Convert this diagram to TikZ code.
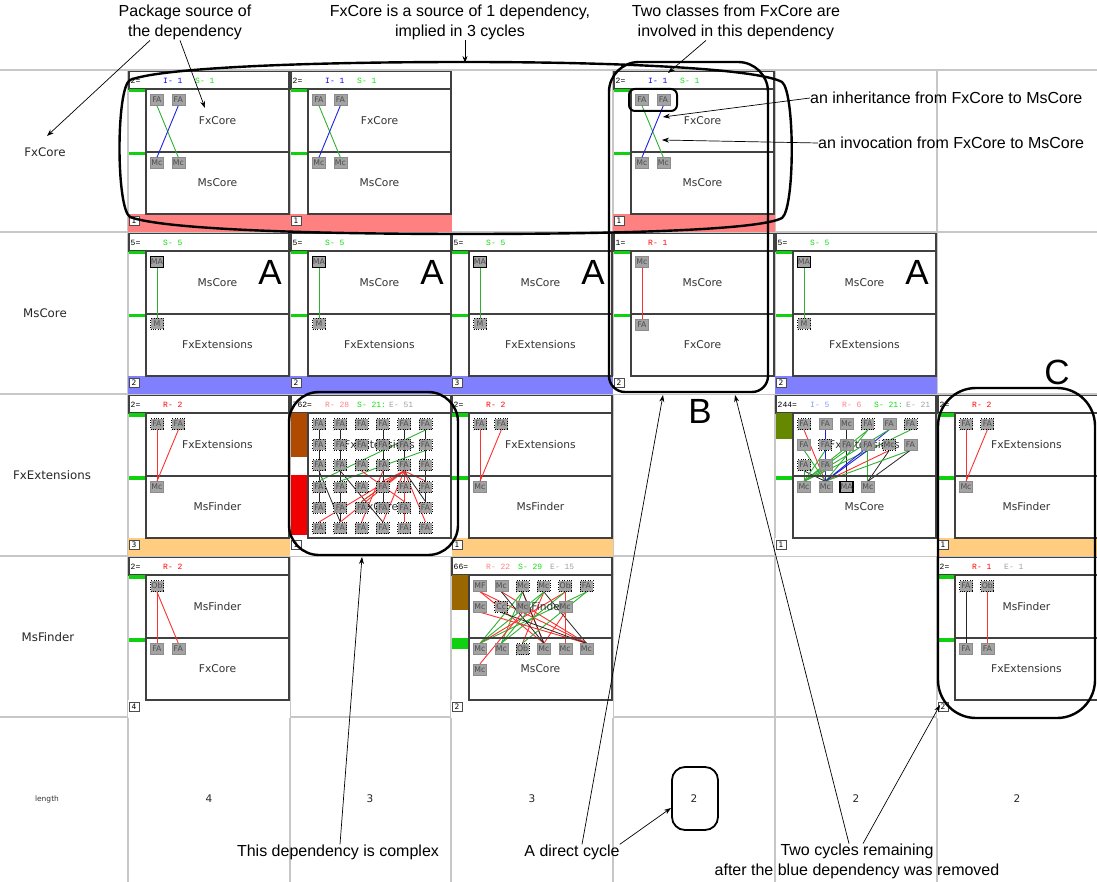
\documentclass[tikz,border=0pt]{standalone}
\usepackage{fontspec}
\setmainfont{Liberation Sans}
\newfontfamily\pkgfont{DejaVu Sans}
\newfontfamily\hdrfont{Liberation Mono}
\usepackage{tikz}
\usetikzlibrary{arrows.meta,positioning,backgrounds}
\usepackage{xcolor}
\definecolor{depI}{HTML}{2020E0}
\definecolor{depS}{HTML}{30B030}
\definecolor{depR}{HTML}{FF3030}
\definecolor{hI}{HTML}{0000FF}
\definecolor{hIlt}{HTML}{7FA0FF}
\definecolor{hR}{HTML}{FF0000}
\definecolor{hRlt}{HTML}{FF8080}
\definecolor{hS}{HTML}{10DD10}
\definecolor{hE}{HTML}{A0A0A0}
\definecolor{bandR}{HTML}{FF8080}
\definecolor{bandB}{HTML}{8080FF}
\definecolor{bandO}{HTML}{FFCC80}
\definecolor{barg}{HTML}{10D010}
\definecolor{stripBr}{HTML}{B04A00}
\definecolor{stripRd}{HTML}{F00000}
\definecolor{stripOl}{HTML}{668800}
\definecolor{stripBn}{HTML}{996600}
\tikzset{
  cellline/.style={draw=black!75, line width=1.2pt},
  gridln/.style={draw=black!22, line width=1.6pt},
  pkgname/.style={font=\pkgfont\fontsize{10.7}{12}\selectfont, text=black!80, inner sep=0pt},
  rowname/.style={font=\pkgfont\fontsize{11.8}{13}\selectfont, text=black!85, inner sep=0pt},
  lenname/.style={font=\pkgfont\fontsize{7.5}{8}\selectfont, text=black!80, inner sep=0pt},
  lenval/.style={font=\pkgfont\fontsize{10.5}{12}\selectfont, text=black!85, inner sep=0pt},
  hdr/.style={font=\hdrfont\fontsize{8}{9}\selectfont, anchor=west, inner sep=0pt},
  numbox/.style={draw=black!70, fill=white, minimum width=9.5pt, minimum height=9.5pt, inner sep=0pt, font=\pkgfont\fontsize{7.5}{8}\selectfont},
  cls/.style={draw=black!45, line width=0.4pt, fill=black!40, fill opacity=0.9, text opacity=1, text=black!70, minimum width=13pt, minimum height=11pt, inner sep=0pt, font=\pkgfont\fontsize{7.8}{8}\selectfont},
  clsdot/.style={cls, draw=black, dotted, line width=0.9pt},
  clsbold/.style={cls, draw=black, line width=1.4pt},
  lnI/.style={draw=depI, line width=0.9pt},
  lnS/.style={draw=depS, line width=0.9pt},
  lnR/.style={draw=depR, line width=0.9pt},
  lnE/.style={draw=black!85, line width=0.8pt},
  note/.style={font=\fontsize{16}{20.5}\selectfont, align=center, inner sep=0pt},
  annot/.style={-{Stealth[length=7pt,width=5pt]}, line width=0.7pt},
  hilite/.style={draw=black, line width=2.4pt},
  bigletter/.style={font=\fontsize{35}{35}\selectfont, inner sep=0pt}
}
\newcommand{\cellbox}[5]{%
  \fill[#4] (0,144) rectangle (162,162);
  \draw[cellline] (1,1.5) rectangle (161,19);
  \draw[cellline] (18,19) rectangle (161,82);
  \draw[cellline] (18,82) rectangle (161,144);
  \node[pkgname] (upname) at (89.5,50.5) {#1};
  \node[pkgname] (loname) at (89.5,113) {#2};
  \node[numbox] (num) at (6,150.5) {#3};
  \node[hdr] (cnt) at (2.5,10.5) {#5};
}
\newcommand{\gbars}{%
  \fill[barg] (1,19) rectangle (17,22.5);
  \fill[barg] (1,82) rectangle (17,85.5);
}

\begin{document}
\begin{tikzpicture}[x=1pt,y=-1pt]
\useasboundingbox (0,0) rectangle (1097,882);
\foreach \gx in {128,290,451,613,775,937} \draw[gridln] (\gx,70) -- (\gx,882);
\foreach \gy in {70,232,394,556,717} \draw[gridln] (0,\gy) -- (1097,\gy);

\node[rowname] (rFx) at (45,152) {FxCore};
\node[rowname] (rMs) at (45,313) {MsCore};
\node[rowname] (rExt) at (52,475) {FxExtensions};
\node[rowname] (rFind) at (48,637) {MsFinder};
\node[lenname] (rLen) at (47,799) {length};
\foreach \lx/\lv [count=\k] in {209/4,370/3,532/3,694/2,856/2,1017/2}
  \node[lenval] (len\k) at (\lx,799) {\lv};

% FxCore row
\foreach \cx in {128,290,613}{
\begin{scope}[shift={(\cx,70)}]
  \cellbox{FxCore}{MsCore}{1}{bandR}{2=}
  \gbars
  \node[hdr, text=hI] (h1) at (35,10.5) {I- 1};
  \node[hdr, text=hS] (h2) at (67,10.5) {S- 1};
  \node[cls] (u1) at (29,30) {FA};
  \node[cls] (u2) at (50.3,30) {FA};
  \node[cls] (l1) at (29,93) {Mc};
  \node[cls] (l2) at (50.3,93) {Mc};
  \draw[lnS] (u1.south) -- (l2.north);
  \draw[lnI] (u2.south) -- (l1.north);
\end{scope}}

% MsCore row
\foreach \cx/\cn in {128/2,290/2,451/3,775/2}{
\begin{scope}[shift={(\cx,232)}]
  \cellbox{MsCore}{FxExtensions}{\cn}{bandB}{5=}
  \gbars
  \node[hdr, text=hS] (h1) at (35,10.5) {S- 5};
  \node[clsbold] (u1) at (29,30) {MA};
  \node[clsdot] (l1) at (29,92) {M};
  \draw[lnS] (u1.south) -- (l1.north);
  \node[bigletter] (mark) at (142,40.5) {A};
\end{scope}}
\begin{scope}[shift={(613,232)}]
  \cellbox{MsCore}{FxCore}{2}{white}{1=}
  \gbars
  \node[hdr, text=hR] (h1) at (35,10.5) {R- 1};
  \node[cls] (u1) at (29,30) {Mc};
  \node[cls] (l1) at (29,93) {FA};
  \draw[lnR] (u1.south) -- (l1.north);
\end{scope}

% FxExtensions row
\foreach \cx/\cn in {128/3,451/1,937/1}{
\begin{scope}[shift={(\cx,394)}]
  \cellbox{FxExtensions}{MsFinder}{\cn}{bandO}{2=}
  \gbars
  \node[hdr, text=hR] (h1) at (35,10.5) {R- 2};
  \node[clsdot] (u1) at (29,30) {FA};
  \node[clsdot] (u2) at (50.3,30) {FA};
  \node[cls] (l1) at (29,93) {Mc};
  \draw[lnR] (u1.south) -- (l1.north);
  \draw[lnR] (u2.south) -- (l1.north);
\end{scope}}

\begin{scope}[shift={(290,394)}]
  \cellbox{FxExtensions}{FxCore}{1}{white}{762=}
  \fill[stripBr] (1,19) rectangle (17,63);
  \fill[stripRd] (1,81) rectangle (17,141);
  \node[hdr, text=hRlt] (h1) at (35,10.5) {R- 28};
  \node[hdr, text=hS] (h2) at (67,10.5) {S- 21:};
  \node[hdr, text=hE] (h3) at (99,10.5) {E- 51};
  \foreach \i in {1,...,6}
    \foreach \j in {1,2,3}{
      \node[clsdot] (a\i\j) at ({7.7+21.3*\i},{9.5+20.5*\j}) {FA};
      \node[clsdot] (b\i\j) at ({7.7+21.3*\i},{72.5+20.5*\j}) {FA};
    }
  \begin{scope}[on background layer]
    \draw[lnE] (a11.south) -- (b12.north);
    \draw[lnE] (a21.south) -- (b23.north);
    \draw[lnE] (a41.south) -- (b42.north);
    \draw[lnE] (a51.south) -- (b51.north);
    \draw[lnE] (a61.south) -- (b62.north);
    \draw[lnE] (a13.south) -- (b23.north);
    \draw[lnE] (a23.south) -- (b43.north);
    \draw[lnE] (a53.south) -- (b62.north);
    \draw[lnS] (a61.south) -- (b11.north);
    \draw[lnS] (a62.south) -- (b21.north);
    \draw[lnS] (a53.south) -- (b32.north);
    \foreach \t in {13,23,32,41,43,53,61,63}
      \draw[lnR] (a53.south) -- (b\t.north);
    \draw[lnR] (a33.south) -- (b52.north);
    \draw[lnR] (a43.south) -- (b33.north);
  \end{scope}
\end{scope}

\begin{scope}[shift={(775,394)}]
  \cellbox{FxExtensions}{MsCore}{1}{white}{244=}
  \fill[stripOl] (1,19) rectangle (17,45);
  \fill[barg] (1,82) rectangle (17,86);
  \node[hdr, text=hIlt] (h1) at (35,10.5) {I- 5};
  \node[hdr, text=hRlt] (h2) at (67,10.5) {R- 6};
  \node[hdr, text=hS] (h3) at (99,10.5) {S- 21:};
  \node[hdr, text=hE] (h4) at (131,10.5) {E- 21};
  \node[clsdot] (c11) at (29,30) {FA};
  \node[cls] (c21) at (50.3,30) {FA};
  \node[cls] (c31) at (71.6,30) {Mc};
  \node[clsdot] (c41) at (92.9,30) {FA};
  \node[cls] (c51) at (114.2,30) {FA};
  \node[clsdot] (c61) at (135.5,30) {FA};
  \node[cls] (c12) at (29,50.5) {FA};
  \node[clsdot] (c22) at (50.3,50.5) {FA};
  \node[cls] (c32) at (71.6,50.5) {FA};
  \node[cls] (c42) at (92.9,50.5) {FA};
  \node[clsdot] (c52) at (114.2,50.5) {Mc};
  \node[cls] (c62) at (135.5,50.5) {FA};
  \node[clsdot] (c13) at (29,71) {FA};
  \node[cls] (c23) at (50.3,71) {FA};
  \node[cls] (d1) at (29,93) {Mc};
  \node[cls] (d2) at (50.3,93) {Mc};
  \node[clsbold] (d3) at (71.6,93) {MA};
  \node[cls] (d4) at (92.9,93) {Mc};
  \begin{scope}[on background layer]
    \draw[lnR] (c11.south) -- (d2.north);
    \draw[lnI] (c21.south) -- (d2.north);
    \draw[lnE] (c31.south) -- (d3.north);
    \draw[lnS] (c41.south) -- (d1.north);
    \draw[lnS] (c61.south) -- (d1.north);
    \draw[lnI] (c51.south) -- (d2.north);
    \draw[lnS] (c12.south) -- (d2.north);
    \draw[lnE] (c13.south) -- (d2.north);
    \draw[lnR] (c52.south) -- (d2.north);
    \draw[lnE] (c52.south) -- (d4.north);
    \draw[lnS] (c62.south) -- (d2.north);
    \draw[lnE] (c62.south) -- (d4.north);
    \draw[lnS] (c42.south) -- (d4.north);
    \draw[lnS] (c13.south) -- (d1.north);
    \draw[lnS] (c23.south) -- (d1.north);
    \draw[lnS] (c32.south) -- (d1.north);
    \draw[lnS] (c22.south) -- (d1.north);
    \draw[lnS] (c41.south) -- (d2.north);
    \draw[lnS] (c51.south) -- (d1.north);
    \draw[lnI] (c42.south) -- (d2.north);
  \end{scope}
\end{scope}

% MsFinder row
\begin{scope}[shift={(128,556)}]
  \cellbox{MsFinder}{FxCore}{4}{white}{2=}
  \gbars
  \node[hdr, text=hR] (h1) at (35,10.5) {R- 2};
  \node[clsdot] (u1) at (29,30) {Ob};
  \node[cls] (l1) at (29,93) {FA};
  \node[cls] (l2) at (50.3,93) {FA};
  \draw[lnR] (u1.south) -- (l1.north);
  \draw[lnR] (u1.south) -- (l2.north);
\end{scope}

\begin{scope}[shift={(451,556)}]
  \cellbox{MsFinder}{MsCore}{2}{white}{66=}
  \fill[stripBn] (1,19) rectangle (17,54);
  \fill[barg] (1,82) rectangle (17,93);
  \node[hdr, text=hRlt] (h1) at (35,10.5) {R- 22};
  \node[hdr, text=hS] (h2) at (67,10.5) {S- 29};
  \node[hdr, text=hE] (h3) at (99,10.5) {E- 15};
  \node[cls] (e11) at (29,30) {MF};
  \node[cls] (e21) at (50.3,30) {Mc};
  \node[clsdot] (e31) at (71.6,30) {Mc};
  \node[clsdot] (e41) at (92.9,30) {Mc};
  \node[clsdot] (e51) at (114.2,30) {Ob};
  \node[clsdot] (e61) at (135.5,30) {FA};
  \node[cls] (e12) at (29,50.5) {Mc};
  \node[clsdot] (e22) at (50.3,50.5) {Cc};
  \node[cls] (e32) at (71.6,50.5) {Mc};
  \node[cls] (e52) at (114.2,50.5) {Mc};
  \node[cls] (f11) at (29,93) {Mc};
  \node[cls] (f21) at (50.3,93) {Mc};
  \node[clsdot] (f31) at (71.6,93) {Ob};
  \node[cls] (f41) at (92.9,93) {Mc};
  \node[cls] (f51) at (114.2,93) {Mc};
  \node[cls] (f61) at (135.5,93) {Mc};
  \node[cls] (f12) at (29,113.5) {Mc};
  \begin{scope}[on background layer]
    \draw[lnR] (e11.south) -- (f41.north);
    \draw[lnR] (e11.south) -- (f61.north);
    \draw[lnR] (e21.south) -- (f61.north);
    \draw[lnR] (e31.south) -- (f41.north);
    \draw[lnS] (e31.south) -- (f11.north);
    \draw[lnS] (e31.south) -- (f21.north);
    \draw[lnE] (e31.south) -- (f41.north);
    \draw[lnS] (e41.south) -- (f11.north);
    \draw[lnE] (e41.south) -- (f61.north);
    \draw[lnR] (e41.south) -- (f31.north);
    \draw[lnR] (e51.south) -- (f11.north);
    \draw[lnR] (e51.south) -- (f51.north);
    \draw[lnS] (e51.south) -- (f21.north);
    \draw[lnS] (e61.south) -- (f31.north);
    \draw[lnS] (e61.south) -- (f11.north);
    \draw[lnR] (e12.south) -- (f61.north);
    \draw[lnE] (e22.south) -- (f61.north);
    \draw[lnR] (e52.south) -- (f41.north);
    \draw[lnR] (e32.south) -- (f12.north);
    \draw[lnE] (e21.south) -- (f41.north);
    \draw[lnS] (e41.south) -- (f21.north);
  \end{scope}
\end{scope}

\begin{scope}[shift={(937,556)}]
  \cellbox{MsFinder}{FxExtensions}{2}{white}{2=}
  \gbars
  \node[hdr, text=hR] (h1) at (35,10.5) {R- 1};
  \node[hdr, text=hE] (h2) at (67,10.5) {E- 1};
  \node[clsdot] (u1) at (29,30) {FA};
  \node[clsdot] (u2) at (50.3,30) {Ob};
  \node[cls] (l1) at (29,93) {FA};
  \node[cls] (l2) at (50.3,93) {FA};
  \draw[lnE] (u1.south) -- (l1.north);
  \draw[lnR] (u2.south) -- (l2.north);
\end{scope}

% highlights
\draw[hilite] (465,62) .. controls (300,62) and (160,68) .. (130,80)
  .. controls (116,88) and (116,208) .. (130,217)
  .. controls (165,230) and (320,234) .. (465,234)
  .. controls (620,234) and (760,230) .. (782,218)
  .. controls (795,208) and (795,92) .. (782,82)
  .. controls (760,70) and (640,62) .. (465,62) -- cycle;
\draw[hilite] (609,200) [rounded corners=16] -- (609,392) -- (768,392)
  [rounded corners=30] -- (768,62) -- (609,62) -- cycle;
\draw[hilite, line width=2pt, rounded corners=6] (629,89) rectangle (677,111);
\draw[hilite, rounded corners=30] (289,392) rectangle (458,555);
\draw[hilite, rounded corners=38] (938,388) rectangle (1095,718);
\draw[hilite, line width=1.8pt, rounded corners=13] (672,767) rectangle (718,830);
\node[bigletter] (markB) at (700,411) {B};
\node[bigletter] (markC) at (1057,372) {C};

% notes
\node[note] (pkgsrc) at (185,22.5) {Package source of\\the dependency};
\node[note] (srcnote) at (460,22.5) {FxCore is a source of 1 dependency,\\implied in 3 cycles};
\node[note] (twocls) at (736,22.5) {Two classes from FxCore are\\involved in this dependency};
\node[note, anchor=west] (inhnote) at (810,98) {an inheritance from FxCore to MsCore};
\node[note, anchor=west] (invnote) at (818,143) {an invocation from FxCore to MsCore};
\node[note] (cplx) at (338,852) {This dependency is complex};
\node[note] (direct) at (572,852) {A direct cycle};
\node[note] (remain) at (857,861.5) {Two cycles remaining\\after the blue dependency was removed};

\coordinate (tipRow) at (47,136);
\coordinate (tipLbl) at (205,108);
\coordinate (tipOval) at (465,63);
\coordinate (tipPair) at (668,73);
\coordinate (tipInh) at (663,117);
\coordinate (tipInv) at (662,140);
\coordinate (tipCplx) at (362,557);
\coordinate (tipB1) at (663,395);
\coordinate (tipBox) at (671,808);
\coordinate (tipB2) at (735,395);
\coordinate (tipC) at (940,705);

\draw[annot] ([xshift=-35pt]pkgsrc.south) -- (tipRow);
\draw[annot] ([xshift=-5pt]pkgsrc.south) -- (tipLbl);
\draw[annot] ([xshift=5pt]srcnote.south) -- (tipOval);
\draw[annot] ([xshift=-30pt]twocls.south) -- (tipPair);
\draw[annot] (inhnote.west) -- (tipInh);
\draw[annot] (invnote.west) -- (tipInv);
\draw[annot] ([xshift=2pt]cplx.north) -- (tipCplx);
\draw[annot] ([xshift=10pt]direct.north) -- (tipB1);
\draw[annot] (direct.north east) -- (tipBox);
\draw[annot] ([xshift=-8pt]remain.north) -- (tipB2);
\draw[annot] ([xshift=6pt]remain.north) -- (tipC);
\end{tikzpicture}
\end{document}
